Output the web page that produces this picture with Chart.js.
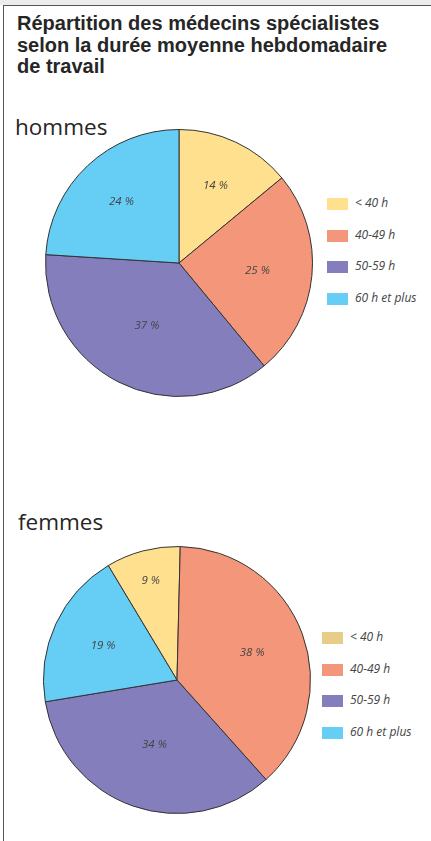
<!DOCTYPE html>
<html lang="fr">
<head>
<meta charset="utf-8">
<script src="https://cdn.jsdelivr.net/npm/chart.js@4.4.1/dist/chart.umd.min.js"></script>
<style>
  html, body { margin: 0; padding: 0; background: #fff; }
  body { width: 431px; height: 841px; position: relative; overflow: hidden; font-family: "Open Sans", "Noto Sans", sans-serif; }
  .bandeau { position: absolute; left: 0; top: 0; width: 431px; height: 5px; background: #ececec; }
  .cadre { position: absolute; left: 3px; top: 5px; width: 600px; height: 900px; border-left: 1px solid #555; border-top: 1px solid #555; }
  h1 { position: absolute; left: 17px; top: 13px; margin: 0; font-size: 20px; line-height: 21.5px; font-weight: bold; color: #262626; font-family: "Liberation Sans", Arial, sans-serif; }
  .sexe { position: absolute; margin: 0; font-size: 22.5px; font-weight: normal; color: #262626; }
  canvas { position: absolute; }
  .legende { position: absolute; }
  .item { position: absolute; left: 0; height: 13px; white-space: nowrap; }
  .item span.c { position: absolute; left: 0; top: 0; width: 21px; height: 12px; }
  .item span.t { position: absolute; left: 28px; top: -4px; font-size: 12px; font-style: italic; color: #444; }
</style>
</head>
<body>
<div class="bandeau"></div>
<div class="cadre"></div>
<h1>Répartition des médecins spécialistes<br>selon la durée moyenne hebdomadaire<br>de travail</h1>

<div class="sexe" style="left:15px; top:111px;">hommes</div>
<canvas id="chart-hommes" width="268" height="268" style="left:45px; top:129px;"></canvas>
<div class="legende" id="leg-hommes" style="left:327px; top:198px;"></div>

<div class="sexe" style="left:18px; top:506px;">femmes</div>
<canvas id="chart-femmes" width="268" height="268" style="left:43px; top:546px;"></canvas>
<div class="legende" id="leg-femmes" style="left:322px; top:632px;"></div>

<script>
// ---- Daten ----
const CATEGORIES = ['< 40 h', '40-49 h', '50-59 h', '60 h et plus'];
const HOMMES = [14, 25, 37, 24];
const FEMMES = [9, 38, 34, 19];

const SLICE_COLORS = ['#ffe08f', '#f4967a', '#857ebc', '#66cdf5'];
const LEGEND_COLORS_H = ['#ffe08f', '#f4967a', '#857ebc', '#66cdf5'];
const LEGEND_COLORS_F = ['#e8cd88', '#f4967a', '#857ebc', '#66cdf5'];

// Abstand der Prozentangabe vom Mittelpunkt (Anteil am Radius)
const LABEL_POS_H = [0.64, 0.59, 0.53, 0.63];
const LABEL_POS_F = [0.77, 0.60, 0.51, 0.61];

// ---- Prozent-Beschriftung in den Segmenten ----
const pctLabels = {
  id: 'pctLabels',
  afterDatasetsDraw(chart, args, opts) {
    const ctx = chart.ctx;
    const meta = chart.getDatasetMeta(0);
    const values = chart.data.datasets[0].data;
    ctx.save();
    ctx.font = 'italic 11.5px "Open Sans", "Noto Sans", sans-serif';
    ctx.fillStyle = '#444';
    ctx.textAlign = 'center';
    ctx.textBaseline = 'middle';
    meta.data.forEach((arc, i) => {
      const p = arc.getProps(['x', 'y', 'startAngle', 'endAngle', 'outerRadius'], true);
      const mid = (p.startAngle + p.endAngle) / 2;
      const r = p.outerRadius * opts.pos[i];
      ctx.fillText(values[i] + ' %', p.x + Math.cos(mid) * r, p.y + Math.sin(mid) * r);
    });
    ctx.restore();
  },
};

function buildPie(id, values, rotation, labelPos) {
  new Chart(document.getElementById(id), {
    type: 'pie',
    data: {
      labels: CATEGORIES,
      datasets: [{
        data: values,
        backgroundColor: SLICE_COLORS,
        borderColor: '#333',
        borderWidth: 1,
      }],
    },
    options: {
      responsive: false,
      animation: false,
      rotation,
      layout: { padding: 0 },
      plugins: {
        legend: { display: false },
        tooltip: { enabled: false },
        pctLabels: { pos: labelPos },
      },
    },
    plugins: [pctLabels],
  });
}

function buildLegend(id, colors) {
  const box = document.getElementById(id);
  CATEGORIES.forEach((cat, i) => {
    const item = document.createElement('div');
    item.className = 'item';
    item.style.top = (i * 31.7) + 'px';
    item.innerHTML = `<span class="c" style="background:${colors[i]}"></span><span class="t"></span>`;
    item.querySelector('.t').textContent = cat;
    box.appendChild(item);
  });
}

buildPie('chart-hommes', HOMMES, 0, LABEL_POS_H);
buildPie('chart-femmes', FEMMES, -31, LABEL_POS_F);
buildLegend('leg-hommes', LEGEND_COLORS_H);
buildLegend('leg-femmes', LEGEND_COLORS_F);
</script>
</body>
</html>
